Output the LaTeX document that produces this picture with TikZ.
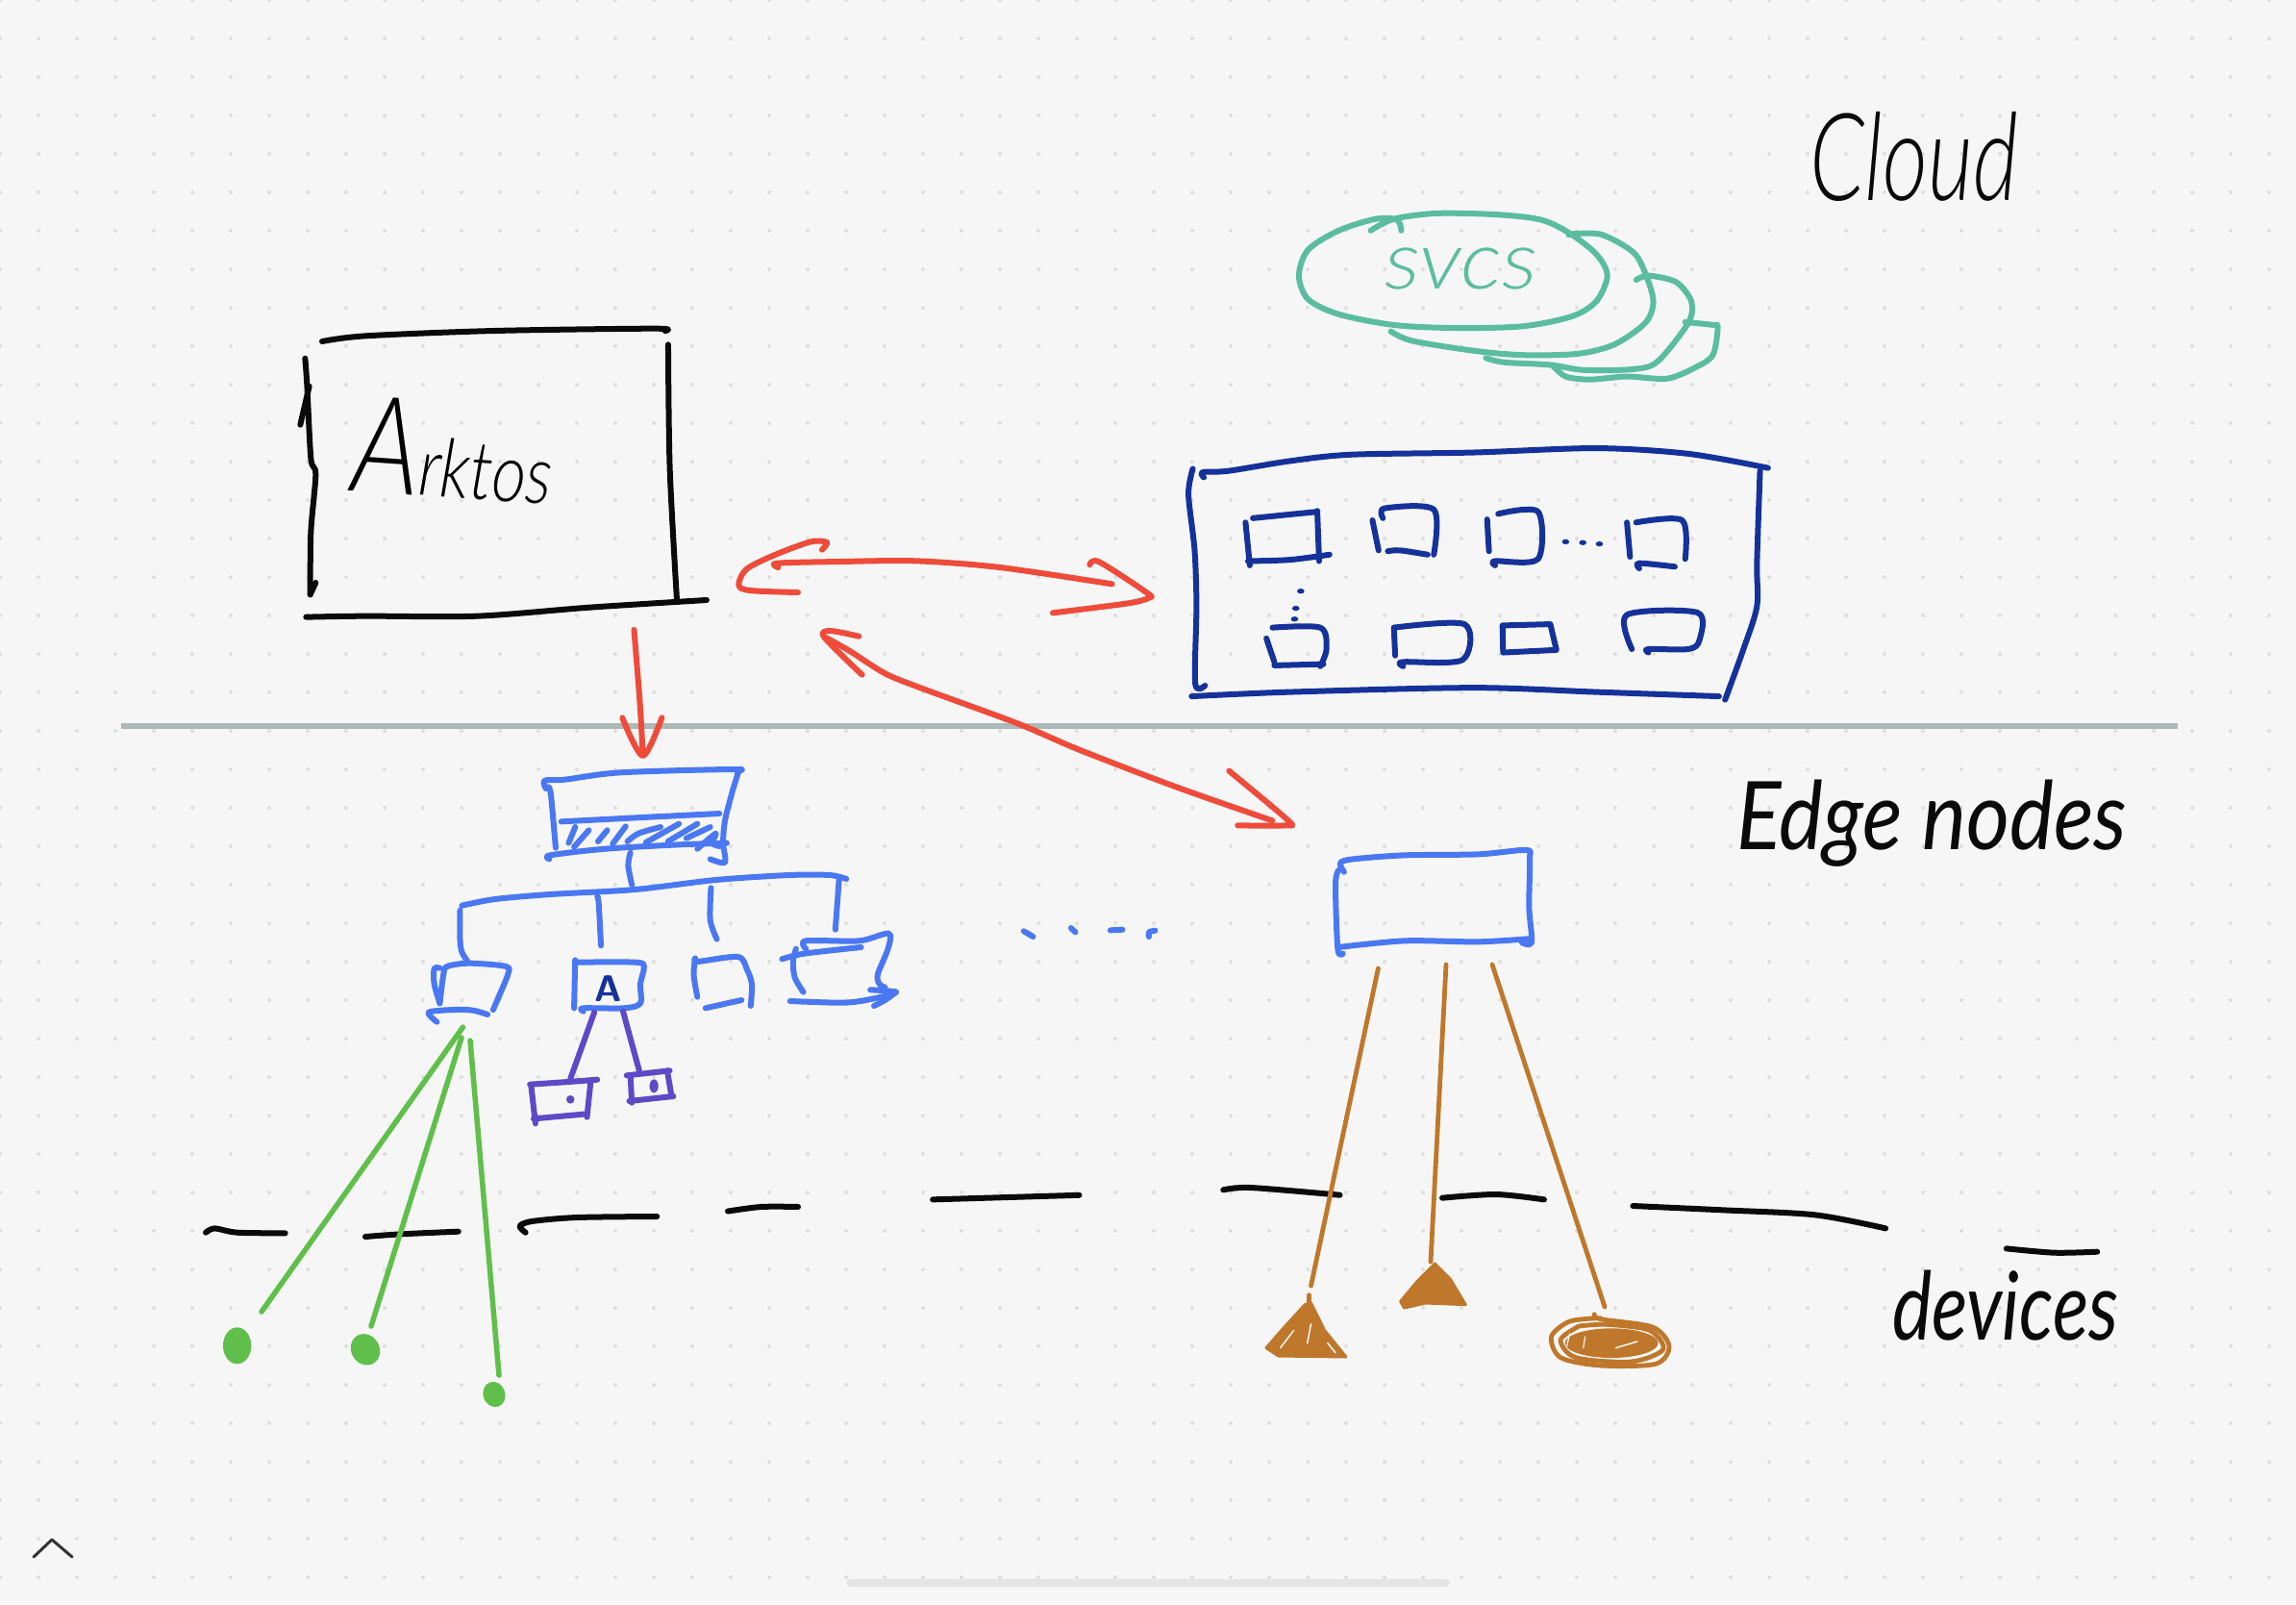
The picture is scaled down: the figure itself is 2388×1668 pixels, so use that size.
\documentclass[tikz,border=0pt]{standalone}
\usepackage{fontspec}
\newfontfamily\hand{Lato}[UprightFont=* Light, ItalicFont=* Light Italic]
\newfontfamily\handreg{Lato}
\definecolor{bgpaper}{HTML}{F6F6F6}
\definecolor{dotc}{HTML}{DEDEDE}
\definecolor{inkblack}{HTML}{0A0A0A}
\definecolor{inkteal}{HTML}{5BBD9F}
\definecolor{inknavy}{HTML}{14329A}
\definecolor{inkblue}{HTML}{4A78F2}
\definecolor{inkpurple}{HTML}{5C4AC6}
\definecolor{inkred}{HTML}{EE4B3B}
\definecolor{inkgreen}{HTML}{5FBF4A}
\definecolor{inkorange}{HTML}{BF772B}
\definecolor{rulegray}{HTML}{ADB9B6}
\tikzset{
  pen/.style={line width=0.06cm,line cap=round,line join=round},
  black pen/.style={pen,draw=inkblack},
  teal pen/.style={pen,draw=inkteal},
  navy pen/.style={pen,draw=inknavy},
  blue pen/.style={pen,draw=inkblue},
  purple pen/.style={pen,draw=inkpurple},
  red pen/.style={pen,draw=inkred},
  green pen/.style={pen,draw=inkgreen,line width=0.055cm},
  orange pen/.style={pen,draw=inkorange,line width=0.048cm},
  label/.style={inner sep=0pt,outer sep=0pt,anchor=base west,transform shape,font=\hand\itshape},
  label reg/.style={inner sep=0pt,outer sep=0pt,anchor=base west,transform shape,font=\handreg\itshape}
}
\newcommand\sk[2]{\draw[#1] plot[smooth,tension=0.5] coordinates {#2};}
\begin{document}
\begin{tikzpicture}[x=0.01cm,y=-0.01cm]
\useasboundingbox (0,0) rectangle (2388,1668);
\fill[bgpaper] (0,0) rectangle (2388,1668);
\foreach \i in {0,...,59}{\foreach \j in {0,...,41}{\fill[dotc] (40*\i,40*\j) circle[radius=2];}}

% rule
\coordinate (ruleL) at (126,755); \coordinate (ruleR) at (2265,755);
\draw[rulegray,line width=0.06cm] (ruleL) -- (ruleR);

% Arktos box (zoom 4)
\begin{scope}[shift={(280,320)},xscale=0.3333,yscale=0.3333]
\sk{black pen}{(165,105)(300,88)(700,72)(1200,65)(1235,72)}
\sk{black pen}{(112,158)(118,240)(130,470)(145,520)(130,700)(128,895)}
\sk{black pen}{(128,895)(145,858)}
\sk{black pen}{(97,365)(125,245)}
\sk{black pen}{(1245,115)(1250,500)(1272,910)}
\sk{black pen}{(115,965)(300,962)(650,962)(1000,935)(1365,912)}
\end{scope}
\node[label,rotate=-4,xscale=.82] (arktos) at (364,510) {{\fontsize{40}{40}\selectfont A}{\fontsize{24}{24}\selectfont rktos}};

% Cloud services and cluster (zoom 1)
\begin{scope}[shift={(1150,50)},xscale=0.6378,yscale=0.4464]
\sk{teal pen}{(432,425)(470,398)(540,385)(640,388)(710,400)(755,430)(800,480)(818,530)(800,590)(760,625)(680,648)(570,652)(470,645)(380,620)(330,585)(315,530)(330,470)(380,425)(440,398)(475,400)(482,425)}
\sk{teal pen}{(755,435)(770,432)(810,435)(860,475)(880,525)(893,590)(880,640)(830,690)(770,712)(680,715)(600,705)(500,682)(465,660)}
\sk{teal pen}{(865,540)(885,530)(930,545)(955,590)(950,640)(900,730)(860,748)(780,750)(725,738)(650,732)(620,722)}
\sk{teal pen}{(945,638)(990,645)(998,650)(990,715)(960,745)(915,770)(850,765)(790,772)(750,765)(728,738)}
\sk{navy pen}{(160,1000)(158,988)(200,985)(300,962)(400,947)(600,942)(800,932)(950,945)(1080,978)}
\sk{navy pen}{(142,980)(135,1040)(145,1170)(148,1300)(146,1480)(162,1485)}
\sk{navy pen}{(1067,985)(1062,1200)(1062,1300)(1040,1400)(1010,1518)}
\sk{navy pen}{(140,1510)(300,1500)(600,1490)(800,1500)(1000,1510)}
\sk{navy pen}{(240,1095)(345,1080)}
\sk{navy pen}{(345,1078)(348,1195)}
\sk{navy pen}{(228,1105)(235,1205)}
\sk{navy pen}{(232,1195)(300,1192)(365,1180)}
\sk{navy pen}{(452,1095)(455,1072)(535,1075)(535,1180)}
\sk{navy pen}{(435,1100)(445,1170)}
\sk{navy pen}{(460,1172)(480,1170)(525,1180)}
\sk{navy pen}{(640,1085)(705,1080)(705,1190)(635,1195)(635,1205)}
\sk{navy pen}{(622,1098)(625,1172)}
\sk{navy pen}{(865,1105)(940,1100)(945,1190)}
\sk{navy pen}{(850,1105)(855,1185)}
\sk{navy pen}{(870,1212)(870,1200)(928,1208)}
\sk{navy pen}{(272,1350)(350,1350)(360,1400)(350,1440)}
\sk{navy pen}{(262,1375)(275,1430)}
\sk{navy pen}{(275,1438)(355,1435)}
\sk{navy pen}{(470,1350)(585,1342)(582,1425)(485,1430)(485,1440)}
\sk{navy pen}{(470,1350)(472,1415)}
\draw[navy pen] (647,1345) -- (725,1342) -- (735,1402) -- (648,1408) -- cycle;
\sk{navy pen}{(858,1400)(850,1320)(965,1315)(968,1380)(950,1400)(885,1400)(885,1408)}
\foreach \p in {(750,1150),(778,1152),(805,1155),(318,1265),(310,1305),(308,1330)}{\fill[inknavy] \p circle[radius=6];}
\end{scope}
\node[label,inkteal,xscale=1.12] (svcs) at (1440,300) {\fontsize{24}{24}\selectfont svcs};
\node[label,inkblack,xscale=.72] (cloud) at (1882,208) {\fontsize{36}{36}\selectfont Cloud};

% Red arrows (zoom 7, zoom 8)
\begin{scope}[shift={(740,540)},xscale=0.3333,yscale=0.3333]
\sk{red pen}{(345,95)(360,72)(310,70)(200,110)(110,155)(85,205)(120,222)(270,228)}
\sk{red pen}{(208,150)(205,137)(400,132)(640,130)(900,150)(1250,202)}
\sk{red pen}{(1180,142)(1210,133)(1360,230)(1365,245)(1300,262)(1065,292)}
\end{scope}
\begin{scope}[shift={(840,640)},xscale=0.3333,yscale=0.3333]
\sk{red pen}{(160,65)(70,48)(52,68)(170,185)}
\sk{red pen}{(55,68)(130,110)(240,180)(350,225)(650,335)(850,420)(1150,535)(1450,640)}
\sk{red pen}{(1315,485)(1500,640)(1490,655)(1342,655)}
\end{scope}
\begin{scope}[xscale=1.523,yscale=1.523]
\sk{red pen}{(433,430)(437,480)(439,515)}
\sk{red pen}{(425,490)(439,516)(452,490)}
\end{scope}

% Blue tree (zoom 2)
\begin{scope}[shift={(400,760)},xscale=0.3827,yscale=0.3333]
\sk{blue pen}{(438,180)(435,155)(490,152)(640,130)(950,120)(960,130)(945,190)(925,280)(920,350)(925,410)(885,400)}
\sk{blue pen}{(445,175)(452,200)(465,365)}
\sk{blue pen}{(480,283)(700,270)(910,258)}
\sk{blue pen}{(448,400)(450,388)(600,368)(800,355)(930,350)}
\sk{blue pen}{(500,350)(518,300)}
\sk{blue pen}{(515,362)(555,310)}
\sk{blue pen}{(580,345)(605,310)}
\sk{blue pen}{(620,352)(655,298)}
\sk{blue pen}{(660,345)(690,320)(750,300)}
\sk{blue pen}{(710,348)(800,290)}
\sk{blue pen}{(770,345)(850,290)}
\sk{blue pen}{(820,335)(885,300)}
\sk{blue pen}{(850,368)(900,320)(890,350)(910,360)}
\sk{blue pen}{(668,380)(662,420)(672,480)}
\sk{blue pen}{(210,545)(300,525)(450,510)(680,495)(900,465)(1100,450)(1210,450)(1255,462)}
\sk{blue pen}{(205,560)(205,650)(210,690)(225,718)}
\sk{blue pen}{(578,515)(582,540)(588,670)}
\sk{blue pen}{(887,490)(885,590)(903,650)}
\sk{blue pen}{(1235,465)(1225,620)}
\sk{blue pen}{(150,740)(135,742)(135,790)(150,850)}
\sk{blue pen}{(150,850)(160,760)(170,735)(230,725)(330,735)(335,760)(310,830)(295,870)}
\sk{blue pen}{(142,908)(120,878)(190,870)(240,872)(280,885)}
\sk{blue pen}{(518,715)(515,865)}
\sk{blue pen}{(518,722)(680,722)(705,735)(695,790)(695,850)(650,865)(540,865)(540,875)}
\sk{blue pen}{(850,830)(840,760)(845,710)(850,720)(960,705)(985,745)(998,790)(995,858)}
\sk{blue pen}{(872,865)(970,840)}
\sk{blue pen}{(1118,680)(1110,720)(1115,770)(1138,815)}
\sk{blue pen}{(1080,712)(1140,695)(1295,675)}
\sk{blue pen}{(1145,680)(1145,655)(1290,655)(1370,632)(1368,680)(1340,760)(1345,790)(1360,800)}
\sk{blue pen}{(1102,843)(1250,848)(1330,835)(1390,815)(1320,808)}
\sk{blue pen}{(1390,815)(1360,840)(1330,858)}
\sk{purple pen}{(570,878)(505,1085)}
\sk{purple pen}{(648,875)(692,1060)}
\sk{purple pen}{(395,1103)(500,1095)(578,1088)}
\sk{purple pen}{(398,1105)(410,1225)}
\sk{purple pen}{(405,1210)(550,1195)}
\sk{purple pen}{(560,1095)(550,1205)}
\sk{purple pen}{(658,1075)(775,1060)}
\sk{purple pen}{(668,1075)(672,1160)}
\sk{purple pen}{(665,1155)(785,1140)}
\sk{purple pen}{(768,1060)(780,1140)}
\fill[inkpurple] (505,1150) ellipse[x radius=11,y radius=13];
\fill[inkpurple] (732,1108) ellipse[x radius=12,y radius=21];
\end{scope}
\node[inner sep=0pt,inknavy,font=\sffamily\bfseries\fontsize{11}{11}\selectfont] (a) at (633,1028) {A};

% Edge box and dots (zoom 10)
\begin{scope}[shift={(1040,860)},xscale=0.3827,yscale=0.3333]
\sk{blue pen}{(935,140)(925,112)(960,100)(1100,88)(1300,85)(1430,72)(1440,100)(1438,250)(1445,360)(1418,360)}
\sk{blue pen}{(920,135)(912,180)(918,380)(932,395)}
\sk{blue pen}{(920,375)(1100,355)(1300,358)(1445,348)}
\sk{blue pen}{(65,325)(90,342)}
\sk{blue pen}{(193,315)(205,328)}
\sk{blue pen}{(300,322)(333,320)}
\sk{blue pen}{(405,342)(405,328)(422,323)}
\end{scope}

% Black dashes
\begin{scope}[shift={(200,1200)},xscale=0.3333,yscale=0.3333]
\sk{black pen}{(42,245)(70,232)(140,245)(290,247)}
\sk{black pen}{(540,258)(650,250)(830,242)}
\sk{black pen}{(1040,245)(1022,225)(1060,210)(1200,198)(1450,195)}
\end{scope}
\begin{scope}[xscale=1.523,yscale=1.523]
\sk{black pen}{(497,827)(520,824)(545,824)}
\sk{black pen}{(637,819)(737,816)}
\end{scope}
\begin{scope}[shift={(1250,1180)},xscale=0.6378,yscale=0.3333]
\sk{black pen}{(35,172)(80,165)(225,188)}
\sk{black pen}{(392,197)(480,186)(558,202)}
\sk{black pen}{(703,222)(850,235)(1000,250)(1115,292)}
\sk{black pen}{(1312,355)(1390,368)(1460,365)}
\end{scope}

% Green connectors
\coordinate (g1a) at (481.5,1068); \coordinate (g1b) at (272,1364);
\coordinate (g2a) at (480,1079);   \coordinate (g2b) at (386,1379);
\coordinate (g3a) at (489,1082);   \coordinate (g3b) at (519,1430);
\draw[green pen] (g1a) -- (g1b);
\draw[green pen] (g2a) -- (g2b);
\draw[green pen] (g3a) -- (g3b);
\begin{scope}[shift={(200,1200)},xscale=0.3333,yscale=0.3333]
\fill[inkgreen] (140,598) ellipse[x radius=44,y radius=57];
\fill[inkgreen,rotate around={30:(540,610)}] (540,610) ellipse[x radius=44,y radius=50];
\fill[inkgreen,rotate around={20:(942,750)}] (942,750) ellipse[x radius=34,y radius=40];
\end{scope}

% Orange connectors
\coordinate (o1a) at (1433.4,1007); \coordinate (o1b) at (1363.5,1337);
\coordinate (o2a) at (1504,1003);   \coordinate (o2b) at (1488,1312);
\coordinate (o3a) at (1552,1003);   \coordinate (o3b) at (1669,1359);
\draw[orange pen] (o1a) -- (o1b);
\draw[orange pen] (o2a) -- (o2b);
\draw[orange pen] (o3a) -- (o3b);
\begin{scope}[shift={(1250,1180)},xscale=0.6378,yscale=0.3333]
\sk{orange pen}{(175,500)(175,530)}
\fill[inkorange,line join=round,draw=inkorange,line width=0.03cm] (178,525) -- (200,610) -- (235,693) -- (125,690) -- (105,665) -- (130,610) -- (168,530) -- cycle;
\fill[inkorange,line join=round,draw=inkorange,line width=0.03cm] (380,402) -- (405,450) -- (430,530) -- (365,525) -- (330,540) -- (324,520) -- (350,460) -- cycle;
\sk{orange pen}{(650,572)(600,582)(570,630)(585,695)(650,720)(740,715)(762,660)(735,600)(650,575)(640,560)}
\sk{orange pen}{(615,597)(585,640)(610,695)(700,708)(752,670)(730,610)(660,592)(615,597)}
\fill[inkorange] (668,650) ellipse[x radius=76,y radius=46];
\draw[bgpaper,line width=0.015cm,line cap=round] (150,610) -- (128,665);
\draw[bgpaper,line width=0.015cm,line cap=round] (178,590) -- (172,650);
\draw[bgpaper,line width=0.015cm,line cap=round] (205,650) -- (218,680);
\draw[bgpaper,line width=0.015cm,line cap=round] (675,665) -- (710,645);
\draw[bgpaper,line width=0.012cm,line cap=round] (625,630) -- (622,665);
\draw[bgpaper,line width=0.012cm,line cap=round] (600,620) -- (595,660);
\end{scope}
\node[label reg,inkblack,xscale=.88] (edge) at (1806,883) {\fontsize{28}{28}\selectfont Edge nodes};
\node[label reg,inkblack,xscale=.79] (devices) at (1968,1393) {\fontsize{28}{28}\selectfont devices};

% UI marks
\coordinate (chL) at (35,1619); \coordinate (chT) at (54,1601); \coordinate (chR) at (75,1619);
\draw[draw=black!80,line width=0.03cm,line cap=round,line join=round] (chL) -- (chT) -- (chR);
\fill[black!10,rounded corners=0.04cm] (880,1642) rectangle (1508,1650);
\end{tikzpicture}
\end{document}
